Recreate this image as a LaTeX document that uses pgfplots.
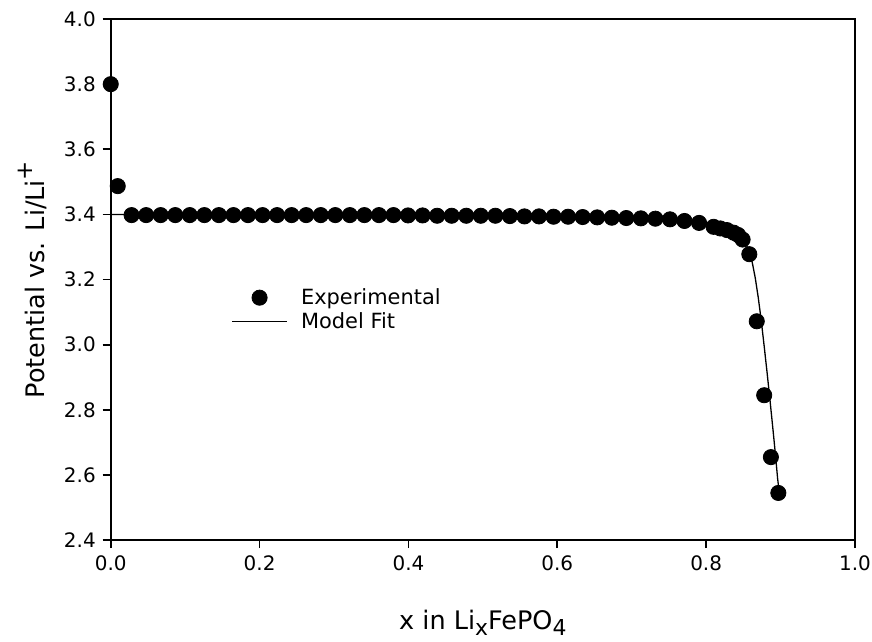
\documentclass[border=0pt]{standalone}
\usepackage{fontspec}
\setmainfont{DejaVu Sans}
\usepackage{pgfplots}
\pgfplotsset{compat=1.18}

\pgfplotstableread{
x       E
0.0000  3.800
0.0094  3.487
0.0280  3.398
0.0476  3.398
0.0671  3.398
0.0867  3.398
0.1062  3.398
0.1258  3.398
0.1453  3.398
0.1649  3.398
0.1844  3.398
0.2040  3.398
0.2235  3.398
0.2431  3.398
0.2626  3.398
0.2822  3.398
0.3017  3.398
0.3213  3.398
0.3408  3.398
0.3604  3.398
0.3799  3.398
0.3995  3.397
0.4190  3.397
0.4386  3.396
0.4581  3.396
0.4777  3.396
0.4972  3.396
0.5168  3.396
0.5363  3.395
0.5559  3.394
0.5754  3.394
0.5950  3.393
0.6145  3.393
0.6341  3.392
0.6536  3.391
0.6732  3.390
0.6927  3.389
0.7123  3.388
0.7318  3.387
0.7514  3.385
0.7709  3.380
0.7905  3.374
0.8100  3.362
0.8190  3.357
0.8280  3.352
0.8370  3.344
0.8430  3.337
0.8490  3.323
0.8580  3.278
0.8680  3.072
0.8780  2.845
0.8870  2.655
0.8970  2.545
}\expdata

% model fit curve
\pgfplotstableread{
x      E
0.000  3.400
0.100  3.399
0.200  3.398
0.300  3.398
0.400  3.397
0.500  3.396
0.600  3.394
0.650  3.392
0.700  3.389
0.740  3.385
0.770  3.380
0.790  3.375
0.810  3.366
0.825  3.357
0.835  3.348
0.843  3.337
0.849  3.324
0.854  3.306
0.858  3.285
0.862  3.252
0.866  3.205
0.870  3.145
0.874  3.075
0.878  2.995
0.882  2.912
0.886  2.825
0.890  2.735
0.893  2.665
0.896  2.590
0.898  2.550
}\fitdata

\newcommand{\lowsub}[1]{\raisebox{-0.45ex}{\fontsize{11}{12}\selectfont #1}}
\newcommand{\highsup}[1]{\raisebox{0.9ex}{\fontsize{11.5}{12}\selectfont #1}}

\begin{document}
\begin{tikzpicture}
\begin{axis}[
  name=ax,
  scale only axis,
  width=372bp, height=260.5bp,
  xmin=0, xmax=1, ymin=2.4, ymax=4.0,
  xtick={0,0.2,0.4,0.6,0.8,1.0},
  ytick={2.4,2.6,2.8,3.0,3.2,3.4,3.6,3.8,4.0},
  tick align=outside, tick pos=left,
  major tick length=4bp,
  axis line style={line width=0.8bp},
  every tick/.style={line width=0.8bp, black},
  /pgf/number format/assume math mode=true,
  ticklabel style={font=\fontsize{10}{12}\selectfont,
    /pgf/number format/fixed, /pgf/number format/fixed zerofill,
    /pgf/number format/precision=1},
  xlabel={x in Li\lowsub{x}FePO\lowsub{4}},
  ylabel={Potential vs. Li/Li\highsup{+}},
  label style={font=\fontsize{12.8}{14}\selectfont},
  xlabel style={at={(rel axis cs:0.5,0)}, anchor=base, yshift=-44.5bp},
  ylabel style={at={([xshift=-33bp]rel axis cs:0,0.5)}, anchor=base},
  legend style={at={(rel axis cs:0.1616,0.4424)}, anchor=west,
    draw=none, fill=none, inner sep=0pt, row sep=2.5bp,
    font=\fontsize{10.5}{12}\selectfont, nodes={inner sep=0pt}},
  legend cell align=left,
]
\addplot[only marks, mark=*, mark size=3.8bp, black,
  legend image code/.code={
    \path[draw=none] (0bp,0bp) -- (34.5bp,0bp);
    \fill[black] (13.75bp,0bp) circle (3.8bp);}]
  table[x=x, y=E] {\expdata};
\addlegendentry{Experimental}
\addplot[black, line width=0.65bp, no marks,
  legend image code/.code={
    \draw[black, line width=0.65bp] (0bp,0bp) -- (27.5bp,0bp);
    \path[draw=none] (34.5bp,0bp);}]
  table[x=x, y=E] {\fitdata};
\addlegendentry{Model Fit}
\end{axis}
\pgfresetboundingbox
\path ([shift={(-55.35bp,-50.5bp)}]ax.south west) rectangle ([shift={(8.5bp,9.5bp)}]ax.north east);
\end{tikzpicture}
\end{document}
